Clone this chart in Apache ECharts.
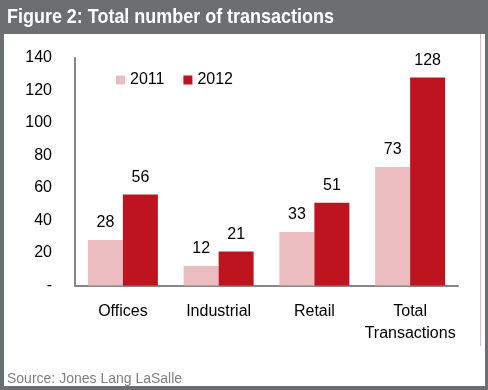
<!DOCTYPE html>
<html><head><meta charset="utf-8">
<script src="https://cdn.jsdelivr.net/npm/echarts@6/dist/echarts.min.js"></script>
<style>html,body{margin:0;padding:0;background:#6d6e71;}#c{width:488px;height:390px;}</style>
</head><body><div id="c"></div>
<script>
const categories = ['Offices', 'Industrial', 'Retail', 'Total\nTransactions'];
const series2011 = [28, 12, 33, 73];
const series2012 = [56, 21, 51, 128];
const yTicks = [0, 20, 40, 60, 80, 100, 120, 140];
const titleText = 'Figure 2: Total number of transactions';
const sourceText = 'Source: Jones Lang LaSalle';

const chart = echarts.init(document.getElementById('c'), null, {renderer: 'canvas'});
const FONT = '"Liberation Sans", Arial, sans-serif';
chart.setOption({
  backgroundColor: '#6d6e71',
  animation: false,
  graphic: [
    {type: 'rect', shape: {x: 4, y: 34, width: 481, height: 352}, style: {fill: '#ffffff'}, z: -10},
    {type: 'line', shape: {x1: 480.5, y1: 34, x2: 480.5, y2: 346}, style: {stroke: '#e9b8bd', lineWidth: 1}, z: -5},
    {type: 'text', x: 7, y: 7, scaleX: 0.855, style: {text: titleText, fill: '#ffffff', font: 'bold 21px ' + FONT}},
    {type: 'text', x: 7, y: 372, style: {text: sourceText, fill: '#808080', font: '14px ' + FONT}}
  ],
  legend: {
    left: 111, top: 67, itemWidth: 9, itemHeight: 9, itemGap: 19,
    icon: 'rect',
    textStyle: {fontSize: 16, fontFamily: FONT, color: '#000', padding: [0, 0, 0, 0]},
    data: ['2011', '2012']
  },
  grid: {left: 75, right: 30, top: 58, bottom: 104.5, containLabel: false},
  xAxis: {
    type: 'category', data: categories,
    axisLine: {lineStyle: {color: '#878787', width: 2}},
    axisTick: {show: false},
    axisLabel: {fontSize: 16, fontFamily: FONT, color: '#000', margin: 15, lineHeight: 22, interval: 0}
  },
  yAxis: {
    type: 'value', min: yTicks[0], max: yTicks[yTicks.length - 1], interval: 20,
    axisLine: {show: true, lineStyle: {color: '#878787', width: 2}},
    axisTick: {show: false},
    splitLine: {show: false},
    axisLabel: {fontSize: 16, fontFamily: FONT, color: '#000', margin: 23,
      formatter: v => v === 0 ? '-' : String(v)}
  },
  series: [
    {name: '2011', type: 'bar', data: series2011, barWidth: 35, barGap: '0%',
     itemStyle: {color: '#ebbcc0'},
     label: {show: true, position: 'top', distance: 9, fontSize: 16, fontFamily: FONT, color: '#000'}},
    {name: '2012', type: 'bar', data: series2012, barWidth: 35, barGap: '0%',
     itemStyle: {color: '#be141f'},
     label: {show: true, position: 'top', distance: 9, fontSize: 16, fontFamily: FONT, color: '#000'}}
  ]
});
</script></body></html>
